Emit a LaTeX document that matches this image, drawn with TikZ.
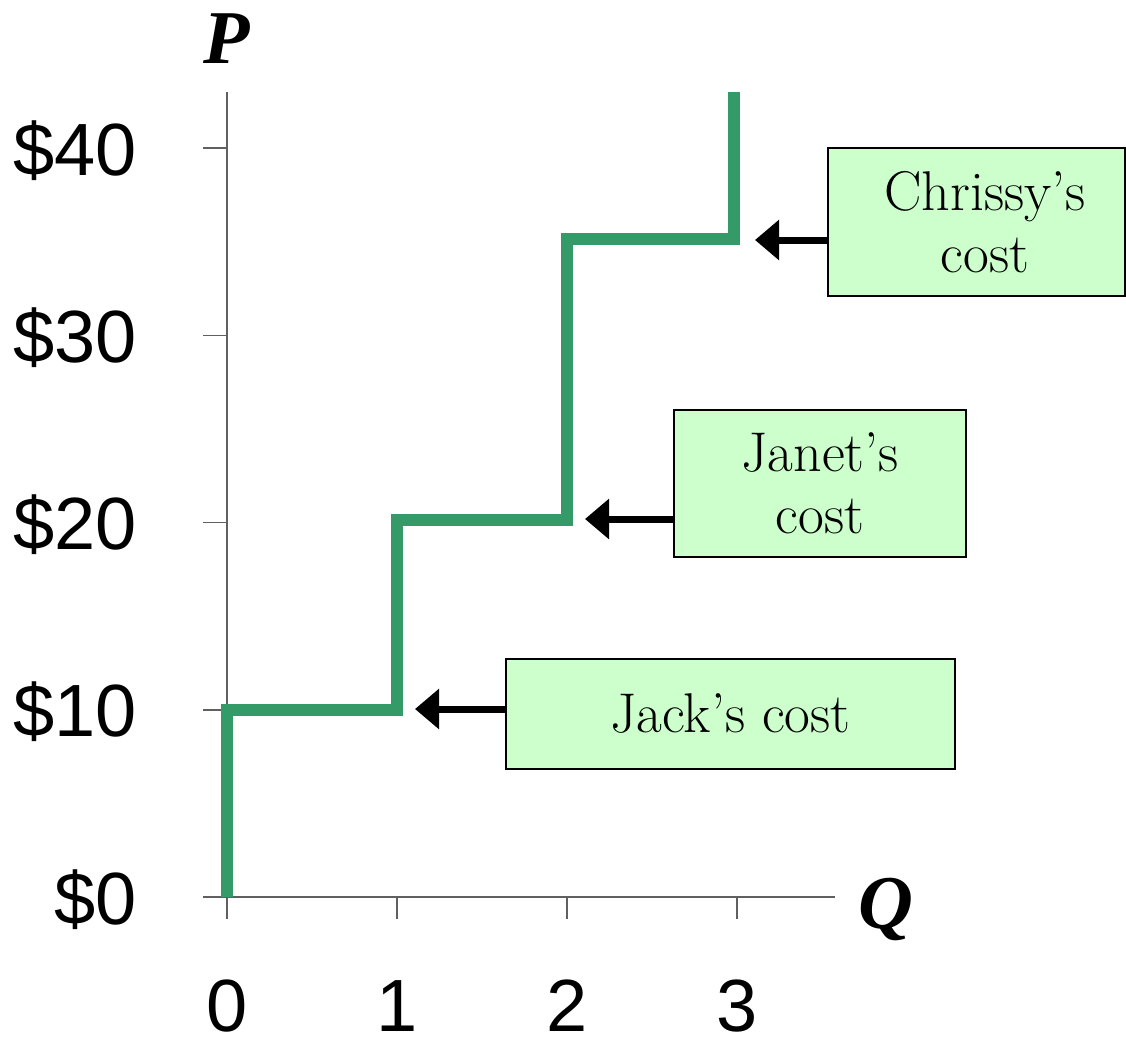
\documentclass[tikz,border=0pt]{standalone}
\usepackage{fontspec}
\newfontfamily\arialf{Liberation Sans}
\newfontfamily\timesf{Liberation Serif}
\usetikzlibrary{arrows.meta}
\definecolor{stepgreen}{RGB}{52,154,104}
\definecolor{boxgreen}{RGB}{204,255,204}
\definecolor{axisgray}{RGB}{96,96,96}
\begin{document}
\begin{tikzpicture}[x=1pt,y=-1pt,
  axisline/.style={draw=axisgray,line width=1.5pt},
  steppath/.style={draw=stepgreen,line width=12pt,line join=miter,line cap=butt},
  costbox/.style={draw=black,line width=1.5pt,fill=boxgreen,inner sep=0pt,align=center,
     font=\fontsize{56}{62}\selectfont},
  costtext/.style={inner sep=0pt,align=center,font=\fontsize{56}{62}\selectfont},
  costarrow/.style={draw=black,line width=7pt,-{Triangle[length=24pt,width=39pt]}},
  ticklab/.style={inner sep=0pt,font=\arialf\fontsize{74}{80}\selectfont},
  axlab/.style={inner sep=0pt,font=\timesf\bfseries\itshape\fontsize{76}{80}\selectfont}
]
\useasboundingbox (0,0) rectangle (1126,1038);
% axes
\coordinate (ytop) at (227,92);
\coordinate (origin) at (227,897);
\coordinate (xend) at (835,897);
\coordinate (xstart) at (203,897);
\draw[axisline] (origin) -- (ytop);
\draw[axisline] (xstart) -- (xend);
% y ticks and labels
\foreach \k/\lab in {0/\$0,1/\$10,2/\$20,3/\$30,4/\$40}{
  \pgfmathsetmacro{\yy}{897-187.2*\k}
  \coordinate (yt\k) at (227,\yy);
  \coordinate (ytl\k) at (203,\yy);
  \draw[axisline] (ytl\k) -- (yt\k);
  \node[ticklab,anchor=base east] (ylab\k) at (137,\yy+27) {\lab};
}
% x ticks and labels
\foreach \k in {0,1,2,3}{
  \pgfmathsetmacro{\xx}{227+170*\k}
  \coordinate (xt\k) at (\xx,897);
  \coordinate (xtb\k) at (\xx,919);
  \draw[axisline] (xt\k) -- (xtb\k);
  \node[ticklab,anchor=base] (xlab\k) at (\xx,1031) {\k};
}
% axis titles
\node[axlab,anchor=base west] (plab) at (203,64) {P};
\node[axlab,anchor=base west] (qlab) at (858,928) {Q};
% supply step curve
\draw[steppath] (227,897) -- (227,710) -- (397,710) -- (397,520) -- (567,520)
  -- (567,239) -- (734,239) -- (734,92);
% boxes
\node[costbox,minimum width=297pt,minimum height=148pt] (chrissy) at (976.5,222) {};
\node[costtext] (chrissytext) at (985,222) {Chrissy’s\\cost};
\node[costbox,minimum width=292pt,minimum height=147pt] (janet) at (820,483.5) {Janet’s\\cost};
\node[costbox,minimum width=449pt,minimum height=110pt] (jack) at (730.5,714) {Jack’s cost};
% arrows
\coordinate (tipC) at (755,240);
\coordinate (tipJa) at (585,519);
\coordinate (tipJk) at (415,709);
\draw[costarrow] (chrissy.west |- tipC) -- (tipC);
\draw[costarrow] (janet.west |- tipJa) -- (tipJa);
\draw[costarrow] (jack.west |- tipJk) -- (tipJk);
\end{tikzpicture}
\end{document}
